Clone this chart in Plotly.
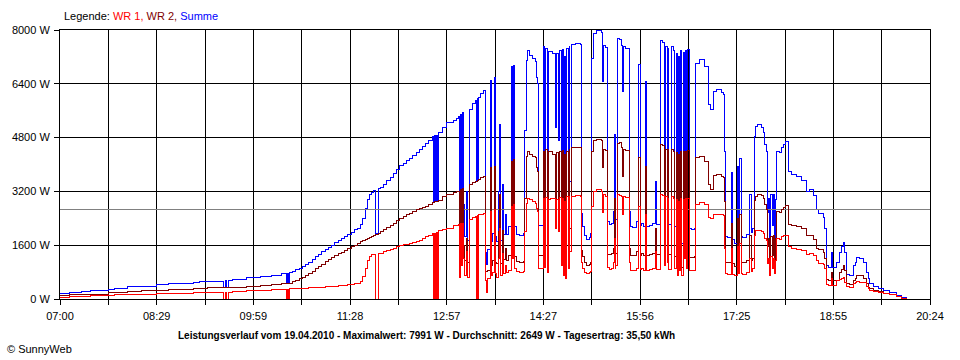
import plotly.graph_objects as go

# ---- data (minutes after 07:00, watts) ----
minutes = [
    0, 9, 20, 28, 45, 50, 62, 75, 89, 100,
    108, 123, 129, 136, 151, 152.5, 154, 156, 159, 172,
    185, 195, 205, 209, 210, 211.5,
    212.5, 215, 218, 221, 224, 227, 230, 233, 236, 239,
    242, 245, 248, 251, 254, 257, 260, 263, 266, 269,
    272, 275, 278, 280, 282, 284, 286, 288, 290, 292,
    294, 296, 299, 302, 305, 308, 311, 314, 317, 320,
    323, 326, 329, 332, 335, 338, 341, 344,
    345.5, 346.5, 347.2, 348.2, 349,
    350, 353.7, 357.4, 363.5, 366, 368.1, 369, 370, 371, 372,
    373, 374, 375.5, 376.2, 378, 381, 384, 384.5, 385.5, 386,
    387, 389, 391, 392.8, 394.2, 395.2, 397.4, 398.4, 399.6, 401.4,
    402.4, 403.6, 405, 406, 407.3, 408.8, 410, 411.5, 412.5, 414.3,
    417.4, 418.4, 419, 420, 422, 425, 428, 429.7, 430.7, 431.9,
    434, 437, 439, 440.5, 441.5, 442.5, 446.7, 448, 449, 450.5,
    451.5, 453, 455, 457.5, 458.5, 460.5, 461.5, 463.5, 464.5, 465.5,
    466.5, 467.5, 468.5, 469.5, 470.5, 471.3, 472.3, 476, 480.6, 481.5,
    482.5, 484.5, 486.7, 489, 490, 490.8, 491.5, 493, 496, 500.5,
    501.3, 502.5, 504, 505.8, 507.5, 510, 511.4, 512.3, 513, 513.8,
    515.5, 517, 518.5, 520, 520.8, 523, 526.1, 527, 529, 532.9,
    535, 536, 537.5, 539, 541.5, 542.4, 545, 548, 549.9, 551,
    555, 557, 558.5, 559.3, 561, 561.8, 562.5, 565.3, 567, 568.3,
    569.3, 570.5, 571.5, 572.5, 573.5, 574.5, 575.8, 576.8, 577.6, 579,
    580, 581.5, 582.2, 584, 586, 587.7, 591.4, 596, 599.1, 600.7,
    603.8, 606.8, 611, 613, 614.5, 615.3, 617, 620.7, 621.5, 623,
    625.9, 627, 628.4, 629.5, 631, 634.5, 637.6, 638.6, 640, 641.6,
    643, 644.4, 648.4, 650, 651.5, 653, 654, 655, 656, 657,
    658, 659, 660, 661, 662.3, 665.3, 667, 668.4, 670, 673,
    676, 680.7, 685.4, 690, 693, 696.1, 699.2, 700.8, 705.4, 706.9,
    708.5, 710, 713.1, 714.2, 717.7, 720.8, 722.5, 723.9, 725.4, 727,
    730, 733.1, 735, 736.2, 739.3, 742.3, 745.4, 747, 748.5, 751.6,
    756.2, 760.8, 767, 773.1, 777.8, 782.4,
]

wr1 = [
    35, 65, 70, 95, 100, 135, 140, 145, 168, 170,
    172, 180, 198, 200, 0, 200, 0, 205, 238, 240,
    250, 270, 290, 0, 295, 0,
    300, 305, 308, 312, 318, 325, 330, 338, 345, 350,
    355, 360, 368, 375, 385, 395, 405, 415, 425, 437,
    448, 460, 520, 660, 900, 1150, 1260, 1310, 1330, 0,
    1340, 1360, 1400, 1440, 1480, 1510, 1550, 1585, 1610, 1630,
    1650, 1670, 1700, 1740, 1800, 1850, 1900, 1954,
    0, 1960, 0, 1970, 0,
    2025, 2060, 2100, 2173, 2200, 2222, 640, 2250, 1000, 2260,
    1200, 700, 1400, 650, 2370, 2420, 2450, 0, 2470, 0,
    2500, 2519, 2540, 560, 200, 600, 2600, 700, 800, 2650,
    750, 650, 1200, 2100, 700, 1350, 750, 1000, 780, 850,
    2750, 1200, 2800, 900, 820, 790, 830, 2000, 2850, 3000,
    2950, 2900, 2850, 2700, 2600, 900, 3000, 950, 3010, 800,
    2950, 2980, 3000, 2100, 2950, 2000, 3020, 1000, 3000, 700,
    2900, 600, 3050, 900, 3060, 1400, 3060, 3080, 3060, 1100,
    900, 800, 760, 790, 830, 1600, 2750, 3200, 3250, 3200,
    2570, 3100, 3050, 950, 890, 900, 1100, 1800, 900, 1000,
    3100, 3080, 3050, 2500, 3040, 3020, 1100, 860, 840, 900,
    2750, 880, 900, 850, 2500, 860, 870, 900, 1400, 880,
    3100, 3080, 1000, 3050, 1100, 3000, 880, 3050, 3000, 900,
    2950, 700, 2900, 850, 3000, 700, 2950, 1200, 2980, 900,
    3000, 2900, 850, 840, 860, 2815, 2865, 2800, 2420, 2400,
    2500, 2520, 2500, 2470, 1500, 750, 740, 1500, 720, 690,
    1550, 760, 1650, 770, 740, 780, 1200, 820, 900, 1900,
    2025, 2050, 2000, 1950, 1800, 1750, 1050, 1200, 700, 1250,
    900, 1200, 750, 1150, 1800, 1780, 1850, 1880, 1900, 1550,
    1500, 1480, 1430, 1330, 1350, 1300, 1150, 1060, 1040, 900,
    430, 410, 600, 410, 560, 570, 600, 650, 500, 370,
    350, 470, 500, 520, 500, 480, 360, 320, 260, 220,
    180, 150, 130, 60, 25, 0,
]

wr2 = [
    115, 128, 140, 148, 185, 188, 235, 245, 265, 280,
    297, 305, 315, 335, 338, 338, 338, 340, 340, 385,
    400, 430, 460, 470, 470, 470,
    475, 510, 560, 600, 634, 700, 760, 830, 900, 970,
    1040, 1110, 1170, 1230, 1285, 1340, 1390, 1440, 1500, 1555,
    1605, 1650, 1700, 1740, 1780, 1810, 1840, 1870, 1900, 1930,
    1950, 2000, 2060, 2120, 2190, 2250, 2330, 2400, 2450, 2500,
    2550, 2600, 2650, 2690, 2720, 2760, 2820, 2870,
    2880, 2890, 2900, 2900, 2910,
    2930, 3050, 3100, 3160, 3190, 3210, 1200, 3250, 1600, 3300,
    1600, 1150, 1800, 1100, 3408, 3460, 3500, 3500, 3520, 3520,
    3556, 3600, 3650, 830, 830, 860, 3900, 1000, 1150, 3950,
    1100, 1050, 2000, 3100, 1050, 2050, 1180, 1500, 1150, 1300,
    4100, 1700, 4150, 1250, 1110, 1090, 1120, 3000, 4250, 4400,
    4300, 4250, 4200, 3900, 3800, 1300, 4400, 1350, 4450, 1250,
    4400, 4380, 4300, 3000, 4350, 2700, 4400, 1300, 4420, 1200,
    4300, 1150, 4400, 1300, 4450, 2100, 4500, 4520, 4500, 1450,
    1250, 1080, 1000, 1030, 1100, 2400, 4400, 4700, 4740, 4720,
    3900, 4450, 4420, 1330, 1330, 1340, 1500, 3000, 1300, 1350,
    4620, 4640, 4500, 3650, 4450, 4430, 1500, 1300, 1280, 1400,
    4200, 1300, 1350, 1300, 3950, 1300, 1320, 1340, 2100, 1330,
    4600, 4560, 1500, 4450, 1500, 4440, 1330, 4450, 4400, 1250,
    4350, 1000, 4300, 1200, 4400, 950, 4380, 1600, 4400, 1300,
    4420, 4300, 1240, 1235, 1250, 4200, 4250, 4100, 3400, 3250,
    3680, 3700, 3650, 3620, 2900, 1100, 1090, 2250, 1060, 960,
    2400, 1100, 2520, 1100, 1090, 1150, 1900, 1160, 1200, 2940,
    3060, 3110, 3080, 2990, 2800, 2650, 1550, 1800, 950, 1850,
    1300, 1900, 1000, 1800, 2600, 2570, 2650, 2720, 2790, 2220,
    2200, 2160, 2100, 1880, 1900, 1780, 1500, 1480, 1380, 1200,
    580, 550, 800, 540, 560, 780, 870, 990, 850, 460,
    440, 560, 600, 690, 700, 600, 450, 330, 300, 260,
    220, 170, 130, 70, 25, 0,
]

summe = [
    160, 195, 215, 240, 285, 320, 370, 385, 432, 450,
    470, 490, 515, 535, 340, 540, 340, 545, 580, 625,
    660, 700, 760, 480, 770, 480,
    785, 820, 870, 910, 955, 1020, 1095, 1170, 1250, 1320,
    1400, 1470, 1540, 1605, 1670, 1735, 1800, 1855, 1915, 1990,
    2060, 2110, 2230, 2400, 2680, 2960, 3100, 3180, 3230, 1935,
    3290, 3330, 3420, 3520, 3620, 3740, 3860, 3960, 4040, 4110,
    4180, 4260, 4350, 4450, 4540, 4620, 4720, 4830,
    2900, 4850, 2910, 4870, 2920,
    4960, 5100, 5235, 5304, 5380, 5430, 1840, 5500, 2600, 5560,
    2800, 1850, 3200, 1750, 5650, 5800, 5900, 3500, 5950, 3560,
    6000, 6100, 6190, 1390, 1040, 1460, 6500, 1700, 1950, 6600,
    1850, 1700, 3200, 5200, 1750, 3400, 1930, 2500, 1930, 2150,
    6900, 2900, 6950, 2150, 1930, 1880, 1950, 5000, 7100, 7400,
    7250, 7150, 7050, 6600, 6400, 2200, 7500, 2300, 7450, 2050,
    7350, 7350, 7300, 5100, 7300, 4700, 7400, 2300, 7420, 1900,
    7200, 1750, 7450, 2200, 7500, 3500, 7560, 7600, 7560, 2550,
    2150, 1880, 1760, 1820, 1950, 4000, 7150, 7900, 7991, 7940,
    6470, 7550, 7480, 2300, 2220, 2240, 2600, 4900, 2200, 2350,
    7750, 7720, 7550, 6170, 7500, 7450, 2600, 2170, 2120, 2300,
    6960, 2180, 2250, 2150, 6470, 2160, 2190, 2250, 3500, 2210,
    7700, 7640, 2500, 7500, 2600, 7440, 2210, 7500, 7400, 2150,
    7300, 1700, 7200, 2050, 7400, 1650, 7330, 2800, 7380, 2200,
    7420, 7200, 2090, 2075, 2110, 7000, 7110, 6900, 5780, 5650,
    6170, 6220, 6150, 6075, 4400, 1850, 1830, 3750, 1780, 1650,
    3950, 1860, 4170, 1870, 1830, 1930, 3110, 1980, 2100, 4840,
    5140, 5190, 5100, 4940, 4600, 4400, 2570, 3000, 1650, 3100,
    2200, 3100, 1750, 2950, 4400, 4350, 4500, 4600, 4690, 3800,
    3700, 3640, 3530, 3200, 3260, 3080, 2650, 2540, 2420, 2100,
    1000, 950, 1380, 950, 1100, 1380, 1560, 1680, 1380, 720,
    700, 1000, 1100, 1220, 1200, 1090, 800, 620, 450, 380,
    300, 250, 200, 100, 40, 0,
]

x_tick_labels = ["07:00", "08:29", "09:59", "11:28", "12:57",
                 "14:27", "15:56", "17:25", "18:55", "20:24"]
y_tick_values = [0, 1600, 3200, 4800, 6400, 8000]
y_tick_labels = ["0 W", "1600 W", "3200 W", "4800 W", "6400 W", "8000 W"]
average_w = 2649
title_text = ("Leistungsverlauf vom 19.04.2010 - Maximalwert: 7991 W - "
              "Durchschnitt: 2649 W - Tagesertrag: 35,50 kWh")

# ---- figure ----
span = 804          # 07:00 .. 20:24 in minutes
n_div = 18
tickvals = [i * span / n_div for i in range(n_div + 1)]
ticktext = [x_tick_labels[i // 2] if i % 2 == 0 else "" for i in range(n_div + 1)]

fig = go.Figure()
fig.add_trace(go.Scatter(x=minutes, y=summe, mode="lines", name="Summe",
                         line=dict(color="#0000FF", width=1, shape="hv"),
                         hoverinfo="skip"))
# average line (Durchschnitt), drawn above Summe like the reference
fig.add_trace(go.Scatter(x=[0, span], y=[average_w, average_w], mode="lines",
                         name="Durchschnitt",
                         line=dict(color="#808080", width=1), hoverinfo="skip"))
fig.add_trace(go.Scatter(x=minutes, y=wr2, mode="lines", name="WR 2",
                         line=dict(color="#800000", width=1, shape="hv"),
                         hoverinfo="skip"))
fig.add_trace(go.Scatter(x=minutes, y=wr1, mode="lines", name="WR 1",
                         line=dict(color="#FF0000", width=1, shape="hv"),
                         hoverinfo="skip"))

base_font = "Liberation Sans, Arial, sans-serif"
fig.update_layout(
    width=960, height=360,
    margin=dict(l=60, r=30, t=30, b=61, pad=0),
    paper_bgcolor="white", plot_bgcolor="white",
    showlegend=False,
    font=dict(family=base_font, size=11, color="black"),
)
axis_common = dict(ticks="outside", ticklen=5, tickwidth=1, tickcolor="black",
                   showgrid=True, gridcolor="black", gridwidth=1,
                   showline=True, linecolor="black", linewidth=1, mirror=True,
                   zeroline=False, fixedrange=True, ticklabelstandoff=2,
                   tickfont=dict(family=base_font, size=11, color="black"))
fig.update_xaxes(range=[0, span], tickvals=tickvals, ticktext=ticktext, **axis_common)
fig.update_yaxes(range=[0, 8000], tickvals=y_tick_values, ticktext=y_tick_labels, **axis_common)

fig.add_annotation(
    xref="paper", yref="paper", x=(62 - 60) / 870, y=(299 - 16) / 269,
    xanchor="left", yanchor="middle", showarrow=False,
    text=("Legende: <span style='color:#FF0000'>WR 1,</span> "
          "<span style='color:#800000'>WR 2,</span> "
          "<span style='color:#0000FF'>Summe</span>"),
    font=dict(family=base_font, size=11, color="black"))
fig.add_annotation(
    xref="paper", yref="paper", x=(176 - 60) / 870, y=(299 - 336) / 269,
    xanchor="left", yanchor="middle", showarrow=False,
    text="<b>" + title_text + "</b>",
    font=dict(family=base_font, size=10, color="black"))
fig.add_annotation(
    xref="paper", yref="paper", x=(5 - 60) / 870, y=(299 - 349) / 269,
    xanchor="left", yanchor="middle", showarrow=False,
    text="© SunnyWeb",
    font=dict(family=base_font, size=11, color="black"))

post = (
    "document.body.style.margin='0px';"
    "document.querySelectorAll('.scatterlayer path.js-line').forEach("
    "function(p){p.setAttribute('shape-rendering','crispEdges');});"
)
fig.write_html("out.html", config={"displayModeBar": False}, post_script=post)
